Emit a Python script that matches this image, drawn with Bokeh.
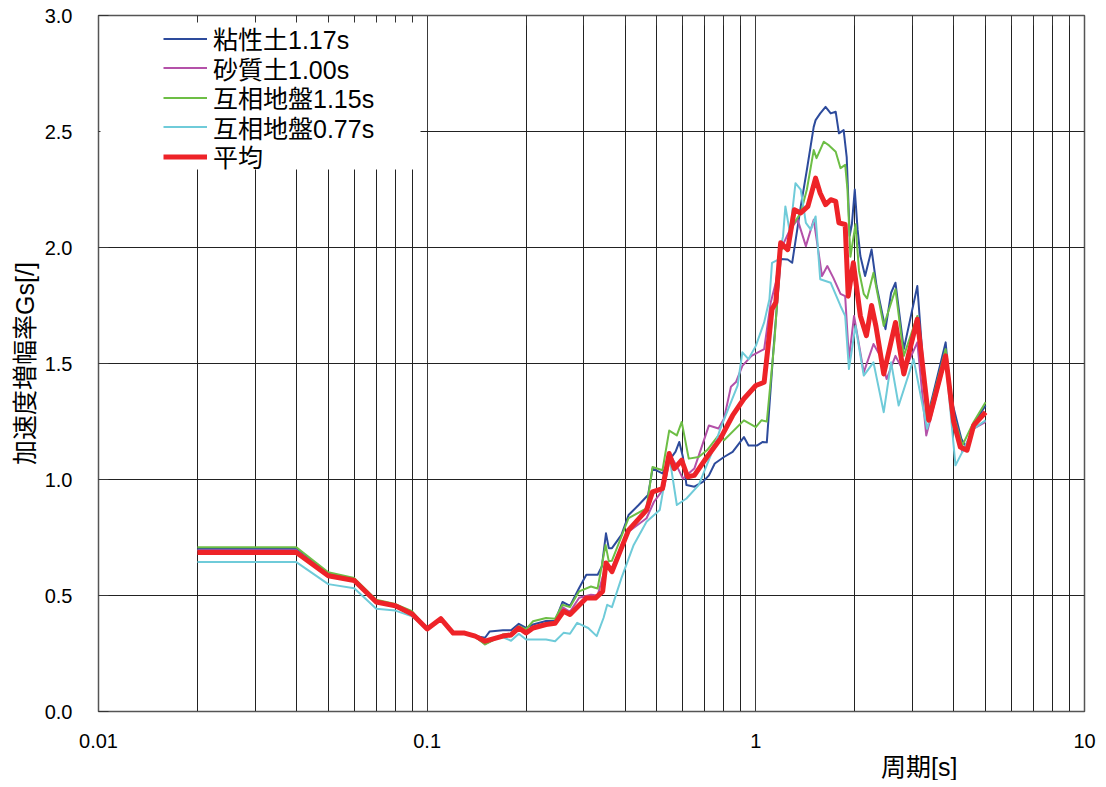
from bokeh.plotting import figure
from bokeh.models import (Legend, LegendItem, FixedTicker, PrintfTickFormatter,
                          CustomJSTickFormatter, Title, LogAxis, BoxAnnotation)
from bokeh.embed import file_html
from bokeh.resources import INLINE

# ---- data (period [s], amplification Gs) ----
clay_117 = [(0.02,0.70),(0.04,0.70),(0.05,0.595),(0.06,0.57),(0.07,0.478),(0.08,0.46),(0.09,0.428),
    (0.10,0.356),(0.11,0.40),(0.12,0.338),(0.13,0.338),(0.14,0.325),(0.15,0.318),(0.155,0.345),
    (0.17,0.35),(0.18,0.35),(0.19,0.378),(0.20,0.36),(0.21,0.375),(0.23,0.39),(0.245,0.39),
    (0.258,0.472),(0.272,0.455),(0.29,0.532),(0.305,0.589),(0.33,0.589),(0.34,0.625),(0.35,0.768),
    (0.357,0.704),(0.365,0.704),(0.39,0.761),(0.41,0.847),(0.44,0.89),(0.47,0.933),(0.485,1.047),
    (0.52,1.026),(0.55,1.09),(0.57,1.12),(0.585,1.162),(0.60,1.097),(0.615,0.976),(0.65,0.969),
    (0.69,0.99),(0.72,1.018),(0.75,1.069),(0.80,1.097),(0.85,1.119),(0.92,1.183),(0.95,1.147),
    (1.01,1.147),(1.05,1.162),(1.08,1.16),(1.13,1.55),(1.19,1.95),(1.25,1.948),(1.29,1.934),
    (1.37,2.177),(1.43,2.335),(1.50,2.52),(1.52,2.549),(1.57,2.578),(1.63,2.606),(1.69,2.578),
    (1.75,2.585),(1.79,2.492),(1.85,2.506),(1.89,2.39),(1.93,2.05),(1.96,2.10),(2.00,2.25),
    (2.04,2.077),(2.08,1.963),(2.15,1.877),(2.25,1.991),(2.33,1.834),(2.48,1.648),(2.58,1.805),
    (2.66,1.848),(2.82,1.562),(3.1,1.834),(3.32,1.262),(3.78,1.591),(3.91,1.362),(4.22,1.176),
    (4.39,1.133),(4.6,1.24),(5.0,1.319)]

sand_100 = [(0.02,0.695),(0.04,0.695),(0.05,0.592),(0.06,0.568),(0.07,0.476),(0.08,0.458),(0.09,0.425),
    (0.10,0.356),(0.11,0.40),(0.12,0.338),(0.13,0.338),(0.14,0.322),(0.15,0.29),(0.16,0.31),
    (0.17,0.33),(0.18,0.335),(0.19,0.36),(0.20,0.345),(0.21,0.36),(0.23,0.375),(0.245,0.38),
    (0.258,0.45),(0.272,0.43),(0.29,0.49),(0.315,0.503),(0.33,0.50),(0.35,0.632),(0.365,0.62),
    (0.41,0.775),(0.465,0.833),(0.49,0.904),(0.525,0.961),(0.55,1.104),(0.58,1.047),(0.60,1.004),
    (0.65,1.047),(0.72,1.233),(0.77,1.22),(0.80,1.262),(0.84,1.40),(0.87,1.42),(0.91,1.49),
    (0.97,1.533),(1.06,1.562),(1.11,1.763),(1.15,1.848),(1.19,1.991),(1.27,2.077),(1.34,2.12),
    (1.42,2.006),(1.50,2.12),(1.59,1.877),(1.65,1.92),(1.72,1.87),(1.81,1.80),(1.87,1.79),
    (1.92,1.519),(1.99,1.705),(2.13,1.462),(2.28,1.584),(2.39,1.533),(2.5,1.433),(2.66,1.533),
    (2.82,1.462),(3.1,1.591),(3.3,1.19),(3.78,1.519),(4.0,1.233),(4.25,1.119),(4.6,1.219),(5.0,1.248)]

mixed_115 = [(0.02,0.708),(0.04,0.708),(0.05,0.60),(0.06,0.575),(0.07,0.482),(0.08,0.463),(0.09,0.432),
    (0.10,0.356),(0.11,0.40),(0.12,0.338),(0.13,0.338),(0.14,0.322),(0.15,0.289),(0.16,0.31),
    (0.17,0.332),(0.18,0.335),(0.19,0.368),(0.20,0.355),(0.21,0.389),(0.23,0.403),(0.245,0.40),
    (0.258,0.46),(0.272,0.45),(0.29,0.518),(0.315,0.539),(0.33,0.53),(0.349,0.718),(0.357,0.647),
    (0.365,0.65),(0.41,0.833),(0.465,0.876),(0.485,1.054),(0.52,1.04),(0.545,1.211),(0.575,1.19),
    (0.595,1.248),(0.625,1.09),(0.67,1.097),(0.71,1.126),(0.77,1.19),(0.80,1.169),(0.92,1.255),
    (1.0,1.226),(1.04,1.255),(1.08,1.25),(1.14,1.60),(1.19,1.99),(1.25,2.01),(1.30,2.10),
    (1.37,2.15),(1.43,2.25),(1.50,2.42),(1.53,2.385),(1.61,2.456),(1.67,2.44),(1.75,2.413),
    (1.81,2.342),(1.87,2.356),(1.90,2.25),(1.94,1.96),(2.01,2.10),(2.06,1.90),(2.13,1.80),
    (2.18,1.78),(2.28,1.891),(2.45,1.662),(2.66,1.82),(2.82,1.533),(3.1,1.705),(3.32,1.255),
    (3.78,1.562),(4.0,1.276),(4.25,1.147),(4.6,1.248),(5.0,1.333)]

mixed_077 = [(0.02,0.644),(0.04,0.644),(0.05,0.549),(0.06,0.531),(0.07,0.443),(0.08,0.435),(0.09,0.41),
    (0.10,0.356),(0.11,0.40),(0.12,0.338),(0.13,0.338),(0.14,0.33),(0.15,0.305),(0.17,0.32),
    (0.18,0.305),(0.19,0.335),(0.20,0.31),(0.21,0.31),(0.23,0.31),(0.245,0.303),(0.26,0.339),
    (0.272,0.335),(0.286,0.382),(0.309,0.36),(0.328,0.325),(0.344,0.403),(0.353,0.46),(0.365,0.45),
    (0.39,0.575),(0.425,0.718),(0.465,0.818),(0.51,0.868),(0.545,1.104),(0.575,0.89),(0.615,0.918),
    (0.67,0.976),(0.75,1.147),(0.78,1.219),(0.88,1.405),(0.91,1.548),(0.95,1.519),(1.0,1.576),
    (1.06,1.677),(1.10,1.777),(1.12,1.934),(1.17,1.948),(1.21,2.049),(1.23,2.177),(1.27,2.063),
    (1.32,2.277),(1.37,2.249),(1.42,2.106),(1.47,2.077),(1.52,2.134),(1.57,1.863),(1.69,1.848),
    (1.81,1.748),(1.87,1.705),(1.92,1.476),(2.01,1.662),(2.13,1.448),(2.28,1.505),(2.45,1.29),
    (2.58,1.505),(2.72,1.319),(3.02,1.519),(3.32,1.219),(3.78,1.519),(4.05,1.061),(4.25,1.119),
    (4.6,1.219),(5.0,1.255)]

average = [(0.02,0.685),(0.04,0.685),(0.05,0.585),(0.06,0.565),(0.07,0.472),(0.08,0.456),(0.09,0.42),
    (0.10,0.356),(0.11,0.40),(0.12,0.338),(0.13,0.338),(0.14,0.325),(0.15,0.303),(0.17,0.325),
    (0.18,0.33),(0.19,0.36),(0.20,0.339),(0.21,0.36),(0.23,0.375),(0.245,0.38),(0.26,0.432),
    (0.272,0.418),(0.305,0.489),(0.325,0.489),(0.342,0.518),(0.35,0.64),(0.365,0.603),(0.41,0.782),
    (0.465,0.868),(0.485,0.947),(0.52,0.961),(0.545,1.112),(0.565,1.047),(0.595,1.083),(0.62,1.012),
    (0.65,1.018),(0.71,1.097),(0.78,1.176),(0.85,1.276),(0.92,1.348),(1.0,1.405),(1.06,1.419),
    (1.09,1.576),(1.12,1.734),(1.15,1.763),(1.19,2.02),(1.25,1.991),(1.31,2.163),(1.37,2.149),
    (1.44,2.177),(1.52,2.299),(1.57,2.234),(1.63,2.185),(1.69,2.206),(1.75,2.199),(1.79,2.106),
    (1.87,2.099),(1.91,1.79),(1.98,1.934),(2.08,1.705),(2.17,1.62),(2.25,1.75),(2.32,1.66),
    (2.45,1.455),(2.66,1.677),(2.82,1.455),(3.1,1.691),(3.36,1.255),(3.78,1.533),(4.0,1.248),
    (4.19,1.14),(4.39,1.126),(4.6,1.233),(5.0,1.29)]

series_labels = ["粘性土1.17s", "砂質土1.00s", "互相地盤1.15s", "互相地盤0.77s", "平均"]
series_data = [clay_117, sand_100, mixed_115, mixed_077, average]
series_colors = ["#2D4B9C", "#B451A9", "#6DBE45", "#6FCBD9", "#EE2328"]
series_widths = [2, 2, 2, 2, 5]

x_major = [0.01, 0.1, 1, 10]
x_minor = [m * d for d in (0.01, 0.1, 1) for m in range(2, 10)]
y_ticks = [0.0, 0.5, 1.0, 1.5, 2.0, 2.5, 3.0]

CJK = "Liberation Sans, Noto Sans CJK JP"

p = figure(width=1100, height=780, x_axis_type="log", x_range=(0.01, 10), y_range=(0, 3.0),
           output_backend="svg", toolbar_location=None,
           min_border_left=98, min_border_right=16, min_border_top=15, min_border_bottom=66)
p.background_fill_color = "white"
p.border_fill_color = "white"
p.outline_line_color = "#555555"
p.outline_line_width = 1.5

xt = FixedTicker(ticks=x_major, minor_ticks=x_minor)
yt = FixedTicker(ticks=y_ticks)

xa = p.xaxis[0]
xa.ticker = xt
xa.formatter = CustomJSTickFormatter(code="return tick.toString();")
xa.major_tick_in = 0
xa.major_tick_out = 0
xa.minor_tick_in = 0
xa.minor_tick_out = 0
xa.axis_line_color = "#555555"
xa.major_label_standoff = 22
xa.major_label_text_font = "Liberation Sans"
xa.major_label_text_font_size = "20px"
xa.major_label_text_color = "black"

ya = p.yaxis[0]
ya.ticker = yt
ya.formatter = PrintfTickFormatter(format="%.1f")
ya.major_tick_in = 10
ya.major_tick_out = 0
ya.minor_tick_in = 0
ya.minor_tick_out = 0
ya.axis_line_color = "#555555"
ya.major_tick_line_color = "#333333"
ya.major_label_standoff = 26
ya.major_label_text_font = "Liberation Sans"
ya.major_label_text_font_size = "20px"
ya.major_label_text_color = "black"
ya.axis_label = "加速度増幅率Gs[/]"
ya.axis_label_text_font = CJK
ya.axis_label_text_font_style = "normal"
ya.axis_label_text_font_size = "25px"
ya.axis_label_text_color = "black"
ya.axis_label_standoff = 3

top = LogAxis(ticker=xt, formatter=CustomJSTickFormatter(code="return ' ';"),
              major_label_text_font_size="2px", major_label_standoff=0,
              major_tick_in=0, major_tick_out=0, minor_tick_in=10, minor_tick_out=0,
              minor_tick_line_color="#333333", axis_line_color="#555555")
p.add_layout(top, "above")

p.xgrid.ticker = xt
p.xgrid.grid_line_color = "#3a3a3a"
p.xgrid.grid_line_width = 1
p.xgrid.minor_grid_line_color = "#222222"
p.xgrid.minor_grid_line_width = 1
p.ygrid.ticker = yt
p.ygrid.grid_line_color = "#222222"
p.ygrid.grid_line_width = 1

renderers = []
for data, col, w in zip(series_data, series_colors, series_widths):
    xs = [t for t, v in data]
    ys = [v for t, v in data]
    renderers.append(p.line(xs, ys, line_color=col, line_width=w, line_join="round"))

# white legend panel (screen units, relative to the plot frame)
panel = BoxAnnotation(left=2, right=322, bottom=542, top=689,
                      left_units="screen", right_units="screen",
                      bottom_units="screen", top_units="screen",
                      fill_color="white", fill_alpha=1.0, line_color=None,
                      level="annotation")
p.add_layout(panel)

# one legend row per series, spaced like the reference
row_step = 29.5
for i, (lab, r) in enumerate(zip(series_labels, renderers)):
    lg = Legend(items=[LegendItem(label=lab, renderers=[r])],
                location=(65, 655 - row_step * i), padding=0, margin=0, spacing=0,
                glyph_width=44, glyph_height=29, label_height=29,
                label_standoff=6, label_text_font=CJK, label_text_font_size="25px",
                label_text_color="black", border_line_color=None,
                background_fill_alpha=0.0)
    p.add_layout(lg)

xtitle = Title(text="周期[s]", align="right", offset=127, standoff=0,
               text_font=CJK, text_font_size="25px", text_font_style="normal",
               text_color="black")
p.add_layout(xtitle, "below")

open("out.html", "w").write(file_html(p, INLINE))
